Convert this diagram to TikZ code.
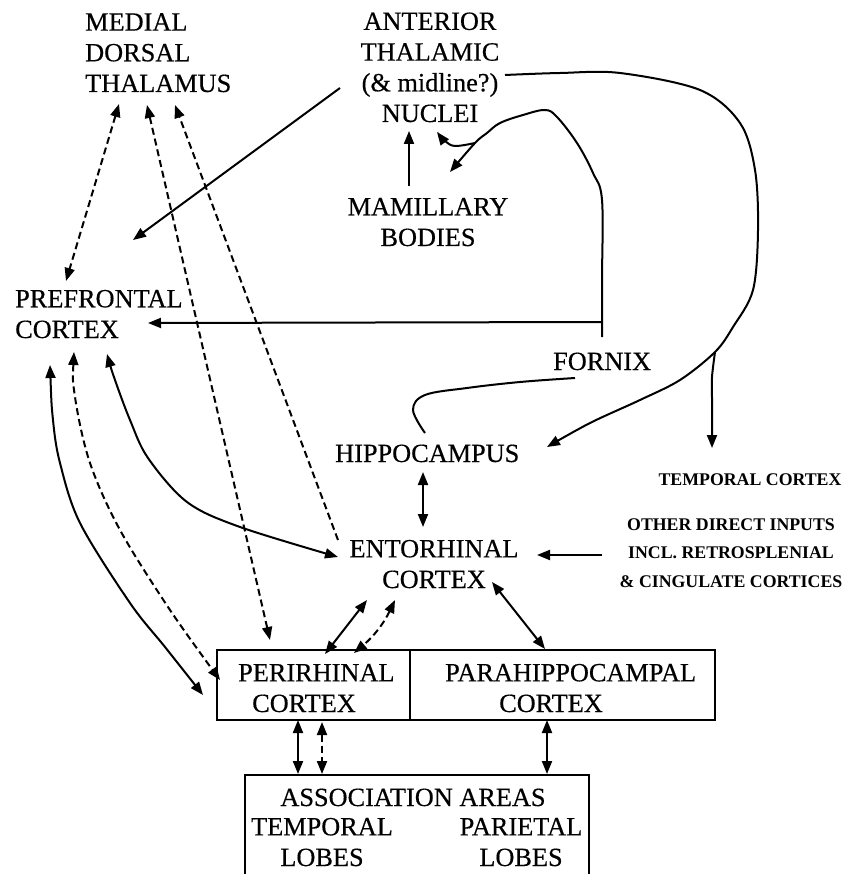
\documentclass[tikz,border=0pt]{standalone}
\usepackage{fontspec}
\setmainfont{Liberation Serif}
\usetikzlibrary{arrows.meta}
\begin{document}
\begin{tikzpicture}[x=1pt,y=-1pt,
  lbl/.style={font=\fontsize{26.3}{30.7}\selectfont\addfontfeature{FakeBold=0.4}, inner sep=0pt, align=center},
  lbll/.style={lbl, align=left},
  sml/.style={font=\bfseries\fontsize{17.8}{28.5}\selectfont, inner sep=0pt, align=center},
  box/.style={draw, line width=1.6pt, inner sep=0pt, anchor=north west},
  ln/.style={line width=2pt},
  tip/.style={-{Triangle[length=13pt,width=10pt]}},
  dtip/.style={{Triangle[length=13pt,width=10pt]}-{Triangle[length=13pt,width=10pt]}},
  dsh/.style={dash pattern=on 7pt off 4pt}
]
\useasboundingbox (0,0) rectangle (853,874);
\clip (0,0) rectangle (853,874);

% ---- labels (base = baseline of last line)
\node[lbll, anchor=base west] (mdt) at (85,92) {MEDIAL\\DORSAL\\THALAMUS};
\node[lbl, anchor=base] (atn) at (430,122) {ANTERIOR\\THALAMIC\\(\& midline?)\\NUCLEI};
\node[lbl, anchor=base] (mb) at (428,246) {MAMILLARY\\BODIES};
\node[lbll, anchor=base west] (pfc) at (15,338) {PREFRONTAL\\CORTEX};
\node[lbl, anchor=base west] (fornix) at (553,370) {FORNIX};
\node[lbl, anchor=base west] (hip) at (335,462) {HIPPOCAMPUS};
\node[lbl, anchor=base] (ec) at (434,588) {ENTORHINAL\\CORTEX};
\node[sml, anchor=base] (tc) at (750,485) {TEMPORAL CORTEX};
\node[sml, anchor=base] (other) at (731,587) {OTHER DIRECT INPUTS\\INCL. RETROSPLENIAL\\\& CINGULATE CORTICES};

% ---- boxes
\node[box, minimum width=193pt, minimum height=70pt] (peribox) at (216,649) {};
\node[box, minimum width=305pt, minimum height=70pt] (parabox) at (409,649) {};
\node[lbll, anchor=base west] (prh) at (238,712) {PERIRHINAL\\\hspace*{14pt}CORTEX};
\node[lbll, anchor=base west] (phc) at (445,712) {PARAHIPPOCAMPAL\\\hspace*{54pt}CORTEX};
\node[box, minimum width=344pt, minimum height=120pt] (assocbox) at (244,774) {};
\node[lbl, anchor=base] (assoc) at (413,806) {ASSOCIATION AREAS};
\node[lbl, anchor=base] (tl) at (322,866) {TEMPORAL\\LOBES};
\node[lbl, anchor=base] (pl) at (521,866) {PARIETAL\\LOBES};

% ---- named end points
\coordinate (mdtA) at (119,104);
\coordinate (mdtB) at (147,105);
\coordinate (mdtC) at (175,105);
\coordinate (pfcA) at (66,281);
\coordinate (pfcB) at (133,240);
\coordinate (pfcC) at (148,323);
\coordinate (pfcD) at (107,354);
\coordinate (pfcE) at (50,365);
\coordinate (pfcF) at (74,352);
\coordinate (atnA) at (340,88);
\coordinate (atnB) at (409,131);
\coordinate (atnC) at (437,132);
\coordinate (atnD) at (505,75);
\coordinate (mbA) at (409,186);
\coordinate (mbB) at (450,172);
\coordinate (fxA) at (602,337);
\coordinate (fxB) at (602,322);
\coordinate (fxC) at (575,378);
\coordinate (hipA) at (547,447);
\coordinate (hipB) at (423,472);
\coordinate (hipC) at (425,433);
\coordinate (tcA) at (712,448);
\coordinate (ecA) at (338,540);
\coordinate (ecB) at (338,557);
\coordinate (ecC) at (423,527);
\coordinate (ecD) at (367,600);
\coordinate (ecE) at (395,600);
\coordinate (ecF) at (492,582);
\coordinate (ecG) at (537,555);
\coordinate (otA) at (602,555);
\coordinate (prA) at (270,640);
\coordinate (prB) at (203,695);
\coordinate (prC) at (220,680);
\coordinate (prD) at (325,654);
\coordinate (prE) at (354,653);
\coordinate (prF) at (298,720);
\coordinate (prG) at (322,722);
\coordinate (phA) at (545,649);
\coordinate (phB) at (547,720);
\coordinate (asA) at (298,774);
\coordinate (asB) at (322,774);
\coordinate (asC) at (547,774);

% ---- dashed connectors from MDT
\draw[ln, dsh, dtip] (mdtA) -- (pfcA);
\draw[ln, dsh, dtip] (mdtB) -- (prA);
\draw[ln, dsh, tip] (ecA) -- (mdtC);

% ---- ATN / MB
\draw[ln, tip] (atnA) -- (pfcB);
\draw[ln, tip] (mbA) -- (atnB);

% ---- fornix
\draw[ln, tip] plot[smooth, tension=0.6] coordinates {(fxA) (602,280) (602,200) (593,173) (577,143) (557,117) (545,110) (523,115) (500,123) (487,133) (475,143) (mbB)};
\draw[ln, tip] plot[smooth, tension=0.6] coordinates {(475,143) (455,146) (445,141) (atnC)};
\draw[ln, tip] (fxB) -- (pfcC);
\draw[ln] plot[smooth, tension=0.6] coordinates {(fxC) (520,382) (467,388) (425,395) (413,410) (hipC)};

% ---- big loop from ATN to hippocampus / temporal cortex
\draw[ln, tip] plot[smooth, tension=0.55] coordinates {(atnD) (560,73) (620,73) (700,90) (740,123) (755,170) (758,230) (753,290) (733,327) (715,352) (680,380) (640,400) (590,423) (hipA)};
\draw[ln, tip] plot[smooth, tension=0.5] coordinates {(715,352) (712,377) (712,400) (tcA)};

% ---- hippocampus / entorhinal
\draw[ln, dtip] (hipB) -- (ecC);
\draw[ln, tip] (otA) -- (ecG);

% ---- PFC long connectors
\draw[ln, dtip] plot[smooth, tension=0.55] coordinates {(pfcD) (115,380) (130,420) (148,458) (187,502) (240,527) (ecB)};
\draw[ln, dtip] plot[smooth, tension=0.55] coordinates {(pfcE) (53,420) (60,463) (80,523) (130,603) (165,647) (prB)};
\draw[ln, dsh, dtip] plot[smooth, tension=0.55] coordinates {(pfcF) (75,397) (90,463) (120,530) (170,610) (prC)};

% ---- entorhinal to boxes
\draw[ln, dtip] (ecD) -- (prD);
\draw[ln, dsh, dtip] (ecE) to[bend left=12] (prE);
\draw[ln, dtip] (ecF) -- (phA);

% ---- boxes to association areas
\draw[ln, dtip] (prF) -- (asA);
\draw[ln, dsh, dtip] (prG) -- (asB);
\draw[ln, dtip] (phB) -- (asC);
\end{tikzpicture}
\end{document}
